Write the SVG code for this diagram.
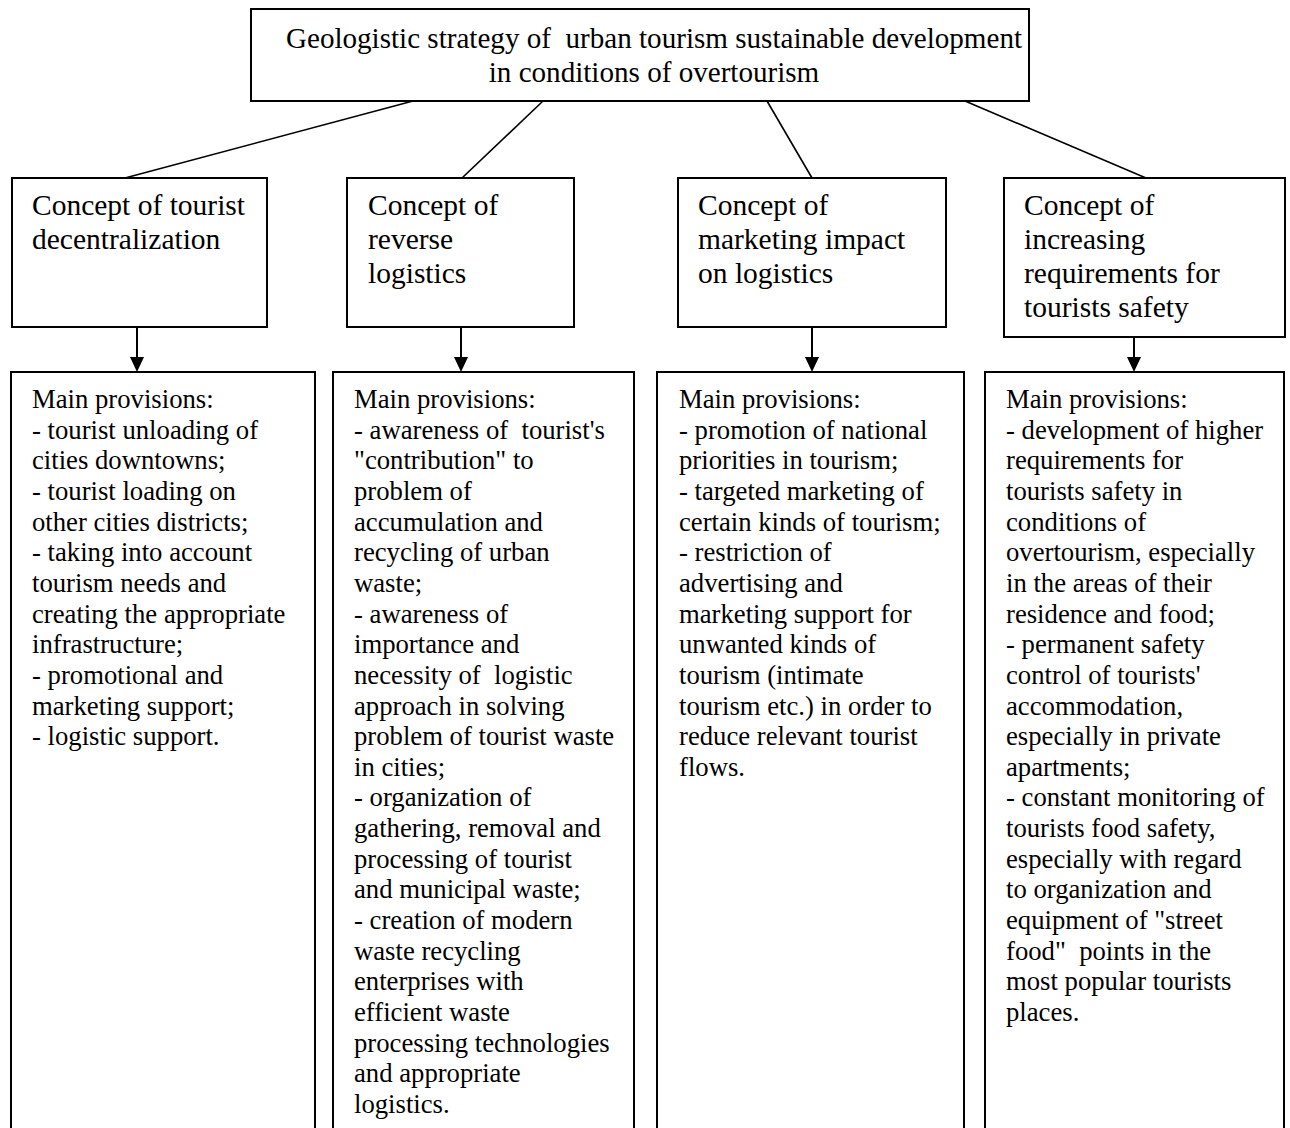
<svg xmlns="http://www.w3.org/2000/svg" width="1290" height="1128" viewBox="0 0 1290 1128">
<style>
.box{fill:#fff;stroke:#000;stroke-width:2}
.open{fill:none;stroke:#000;stroke-width:2}
.con{stroke:#000;stroke-width:1.6;fill:none}
.arr{stroke:#000;stroke-width:2;fill:none}
.t{font-family:"Liberation Serif","Times New Roman",serif;font-size:29.5px;fill:#000;white-space:pre}
.tt{font-size:29.1px}
.b{font-family:"Liberation Serif","Times New Roman",serif;font-size:26.7px;fill:#000;white-space:pre}
</style>
<rect width="1290" height="1128" fill="#fff"/>
<g id="connectors">
<line class="con" x1="413" y1="101" x2="125" y2="178"/>
<line class="con" x1="543" y1="101" x2="462" y2="178"/>
<line class="con" x1="767" y1="101" x2="812" y2="178"/>
<line class="con" x1="965" y1="101" x2="1146" y2="178"/>
<line class="arr" x1="137" y1="327" x2="137" y2="360"/>
<path d="M130,357 L144,357 L137,372 Z"/>
<line class="arr" x1="461" y1="327" x2="461" y2="360"/>
<path d="M454,357 L468,357 L461,372 Z"/>
<line class="arr" x1="812" y1="327" x2="812" y2="360"/>
<path d="M805,357 L819,357 L812,372 Z"/>
<line class="arr" x1="1134" y1="337" x2="1134" y2="360"/>
<path d="M1127,357 L1141,357 L1134,372 Z"/>
</g>
<g id="root">
<rect class="box" x="251" y="9" width="778" height="92"/>
<text class="t tt" xml:space="preserve" text-anchor="middle"><tspan x="654" y="48">Geologistic strategy of  urban tourism sustainable development</tspan><tspan x="654" y="82">in conditions of overtourism</tspan></text>
</g>
<g id="concept1">
<rect class="box" x="12" y="178" width="255" height="149"/>
<text class="t"><tspan x="32" y="215">Concept of tourist</tspan><tspan x="32" y="249">decentralization</tspan></text>
</g>
<g id="concept2">
<rect class="box" x="347" y="178" width="227" height="149"/>
<text class="t"><tspan x="368" y="215">Concept of</tspan><tspan x="368" y="249">reverse</tspan><tspan x="368" y="283">logistics</tspan></text>
</g>
<g id="concept3">
<rect class="box" x="678" y="178" width="268" height="149"/>
<text class="t"><tspan x="698" y="215">Concept of</tspan><tspan x="698" y="249">marketing impact</tspan><tspan x="698" y="283">on logistics</tspan></text>
</g>
<g id="concept4">
<rect class="box" x="1004" y="178" width="281" height="159"/>
<text class="t"><tspan x="1024" y="215">Concept of</tspan><tspan x="1024" y="249">increasing</tspan><tspan x="1024" y="283">requirements for</tspan><tspan x="1024" y="317">tourists safety</tspan></text>
</g>
<g id="provisions1">
<path class="open" d="M11,1130 V372 H315 V1130"/>
<text class="b" xml:space="preserve"><tspan x="32" y="408">Main provisions:</tspan><tspan x="32" dy="30.65">- tourist unloading of</tspan><tspan x="32" dy="30.65">cities downtowns;</tspan><tspan x="32" dy="30.65">- tourist loading on</tspan><tspan x="32" dy="30.65">other cities districts;</tspan><tspan x="32" dy="30.65">- taking into account</tspan><tspan x="32" dy="30.65">tourism needs and</tspan><tspan x="32" dy="30.65">creating the appropriate</tspan><tspan x="32" dy="30.65">infrastructure;</tspan><tspan x="32" dy="30.65">- promotional and</tspan><tspan x="32" dy="30.65">marketing support;</tspan><tspan x="32" dy="30.65">- logistic support.</tspan></text>
</g>
<g id="provisions2">
<path class="open" d="M333,1130 V372 H634 V1130"/>
<text class="b" xml:space="preserve"><tspan x="354" y="408">Main provisions:</tspan><tspan x="354" dy="30.65">- awareness of  tourist's</tspan><tspan x="354" dy="30.65">"contribution" to</tspan><tspan x="354" dy="30.65">problem of</tspan><tspan x="354" dy="30.65">accumulation and</tspan><tspan x="354" dy="30.65">recycling of urban</tspan><tspan x="354" dy="30.65">waste;</tspan><tspan x="354" dy="30.65">- awareness of</tspan><tspan x="354" dy="30.65">importance and</tspan><tspan x="354" dy="30.65">necessity of  logistic</tspan><tspan x="354" dy="30.65">approach in solving</tspan><tspan x="354" dy="30.65">problem of tourist waste</tspan><tspan x="354" dy="30.65">in cities;</tspan><tspan x="354" dy="30.65">- organization of</tspan><tspan x="354" dy="30.65">gathering, removal and</tspan><tspan x="354" dy="30.65">processing of tourist</tspan><tspan x="354" dy="30.65">and municipal waste;</tspan><tspan x="354" dy="30.65">- creation of modern</tspan><tspan x="354" dy="30.65">waste recycling</tspan><tspan x="354" dy="30.65">enterprises with</tspan><tspan x="354" dy="30.65">efficient waste</tspan><tspan x="354" dy="30.65">processing technologies</tspan><tspan x="354" dy="30.65">and appropriate</tspan><tspan x="354" dy="30.65">logistics.</tspan></text>
</g>
<g id="provisions3">
<path class="open" d="M657,1130 V372 H964 V1130"/>
<text class="b" xml:space="preserve"><tspan x="679" y="408">Main provisions:</tspan><tspan x="679" dy="30.65">- promotion of national</tspan><tspan x="679" dy="30.65">priorities in tourism;</tspan><tspan x="679" dy="30.65">- targeted marketing of</tspan><tspan x="679" dy="30.65">certain kinds of tourism;</tspan><tspan x="679" dy="30.65">- restriction of</tspan><tspan x="679" dy="30.65">advertising and</tspan><tspan x="679" dy="30.65">marketing support for</tspan><tspan x="679" dy="30.65">unwanted kinds of</tspan><tspan x="679" dy="30.65">tourism (intimate</tspan><tspan x="679" dy="30.65">tourism etc.) in order to</tspan><tspan x="679" dy="30.65">reduce relevant tourist</tspan><tspan x="679" dy="30.65">flows.</tspan></text>
</g>
<g id="provisions4">
<path class="open" d="M985,1130 V372 H1284 V1130"/>
<text class="b" xml:space="preserve"><tspan x="1006" y="408">Main provisions:</tspan><tspan x="1006" dy="30.65">- development of higher</tspan><tspan x="1006" dy="30.65">requirements for</tspan><tspan x="1006" dy="30.65">tourists safety in</tspan><tspan x="1006" dy="30.65">conditions of</tspan><tspan x="1006" dy="30.65">overtourism, especially</tspan><tspan x="1006" dy="30.65">in the areas of their</tspan><tspan x="1006" dy="30.65">residence and food;</tspan><tspan x="1006" dy="30.65">- permanent safety</tspan><tspan x="1006" dy="30.65">control of tourists'</tspan><tspan x="1006" dy="30.65">accommodation,</tspan><tspan x="1006" dy="30.65">especially in private</tspan><tspan x="1006" dy="30.65">apartments;</tspan><tspan x="1006" dy="30.65">- constant monitoring of</tspan><tspan x="1006" dy="30.65">tourists food safety,</tspan><tspan x="1006" dy="30.65">especially with regard</tspan><tspan x="1006" dy="30.65">to organization and</tspan><tspan x="1006" dy="30.65">equipment of "street</tspan><tspan x="1006" dy="30.65">food"  points in the</tspan><tspan x="1006" dy="30.65">most popular tourists</tspan><tspan x="1006" dy="30.65">places.</tspan></text>
</g>
</svg>
